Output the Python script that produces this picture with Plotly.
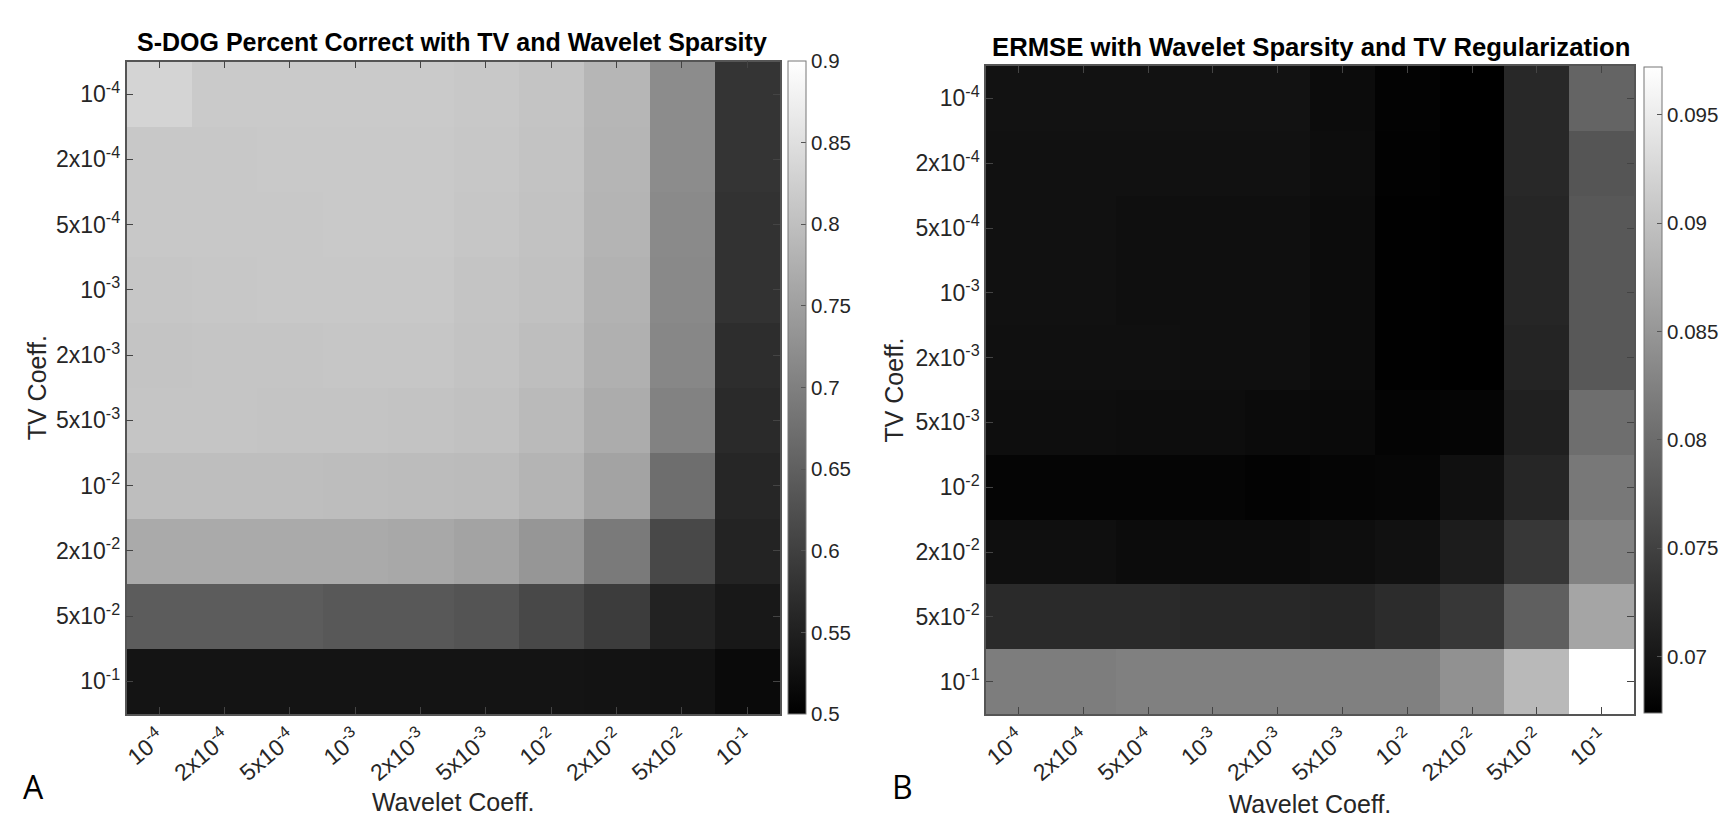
import plotly.graph_objects as go

coef_labels = ["10<sup>-4</sup>", "2x10<sup>-4</sup>", "5x10<sup>-4</sup>", "10<sup>-3</sup>", "2x10<sup>-3</sup>",
               "5x10<sup>-3</sup>", "10<sup>-2</sup>", "2x10<sup>-2</sup>", "5x10<sup>-2</sup>", "10<sup>-1</sup>"]

percent_correct = [
    [.833, .817, .817, .817, .817, .814, .807, .785, .720, .582],
    [.814, .814, .815, .815, .815, .812, .806, .784, .720, .582],
    [.814, .814, .814, .815, .815, .811, .804, .782, .716, .578],
    [.811, .812, .814, .814, .814, .807, .803, .779, .715, .578],
    [.807, .809, .809, .811, .811, .806, .798, .776, .712, .571],
    [.809, .809, .807, .807, .806, .803, .792, .770, .704, .566],
    [.798, .798, .798, .796, .795, .793, .782, .756, .673, .560],
    [.767, .767, .767, .767, .764, .756, .735, .691, .613, .555],
    [.644, .644, .644, .638, .638, .632, .613, .594, .553, .538],
    [.531, .531, .531, .531, .531, .531, .531, .530, .528, .516],
]
ermse = [
    [.06950, .06950, .06950, .06950, .06950, .06880, .06775, .06740, .07207, .07909],
    [.06939, .06939, .06939, .06939, .06939, .06892, .06763, .06740, .07207, .07733],
    [.06939, .06939, .06915, .06915, .06915, .06880, .06752, .06740, .07184, .07768],
    [.06939, .06939, .06915, .06915, .06915, .06880, .06752, .06740, .07184, .07768],
    [.06927, .06927, .06927, .06915, .06915, .06880, .06752, .06740, .07161, .07768],
    [.06904, .06904, .06892, .06892, .06869, .06857, .06787, .06798, .07114, .08025],
    [.06798, .06798, .06798, .06798, .06775, .06798, .06810, .06927, .07184, .08142],
    [.06915, .06915, .06880, .06880, .06880, .06904, .06939, .07067, .07383, .08259],
    [.07231, .07231, .07231, .07207, .07207, .07184, .07254, .07383, .07850, .08668],
    [.08201, .08201, .08236, .08236, .08236, .08236, .08236, .08434, .08902, .09720],
]
ticks_a = [0.5, 0.55, 0.6, 0.65, 0.7, 0.75, 0.8, 0.85, 0.9]
ticks_b = [0.07, 0.075, 0.08, 0.085, 0.09, 0.095]

W, H = 1731, 831
INK = "#262626"
FONT = "Liberation Sans"
gray = [[0, "#000000"], [1, "#ffffff"]]
px = lambda v: v / W
py = lambda v: 1 - v / H

fig = go.Figure()


def panel(z, n, left, right, top, bottom, zmin, zmax, cb_l, cb_r, cb_t, cb_b, cticks, x_off, y_off):
    fig.add_trace(go.Heatmap(
        z=z, x=coef_labels, y=coef_labels, zmin=zmin, zmax=zmax, colorscale=gray,
        xaxis=f"x{n}", yaxis=f"y{n}",
        colorbar=dict(
            x=px(cb_l), xanchor="left", thickness=cb_r - cb_l, thicknessmode="pixels",
            y=py(cb_b), yanchor="bottom", len=(cb_b - cb_t) / H, lenmode="fraction",
            xpad=0, ypad=0, tickvals=cticks, ticktext=[str(t) for t in cticks],
            ticks="inside", ticklen=5, tickcolor="#555555", tickwidth=1,
            outlinecolor="#777777", outlinewidth=1,
            tickfont=dict(family=FONT, size=20.5, color=INK),
        ),
    ))
    common = dict(type="category", ticks="inside", ticklen=7, tickwidth=1, tickcolor="#444444",
                  showline=True, linecolor="#555555", linewidth=1.5, mirror="ticks", showgrid=False,
                  automargin=False, tickfont=dict(family=FONT, size=23, color=INK))
    fig.layout[f"xaxis{n}"] = dict(common, domain=[px(left), px(right)], anchor=f"y{n}", tickangle=-40,
                                   title=dict(text="Wavelet Coeff.", standoff=x_off,
                                              font=dict(family=FONT, size=25, color=INK)))
    fig.layout[f"yaxis{n}"] = dict(common, domain=[py(bottom), py(top)], anchor=f"x{n}", autorange="reversed",
                                   title=dict(text="TV Coeff.", standoff=y_off,
                                              font=dict(family=FONT, size=25, color=INK)))


panel(percent_correct, "", 126.5, 780, 61.5, 714, 0.5, 0.9, 788, 806, 61.5, 714, ticks_a, 9, 2)
panel(ermse, 2, 986, 1634, 66, 714, 0.0674, 0.0972, 1644, 1662, 67, 713, ticks_b, 11, 5)


def text(s, x, y, size, bold=False, family=FONT, color="#000000"):
    fig.add_annotation(text=f"<b>{s}</b>" if bold else s, x=px(x), y=py(y), xref="paper", yref="paper",
                       xanchor="center", yanchor="middle", showarrow=False,
                       font=dict(family=family, size=size, color=color))


text("S-DOG Percent Correct with TV and Wavelet Sparsity", 452, 42, 25, True)
text("ERMSE with Wavelet Sparsity and TV Regularization", 1311, 47, 25.7, True)
text("A", 33, 786, 32, False, "Open Sans")
text("B", 902, 786, 32, False, "Open Sans")

fig.update_layout(width=W, height=H, margin=dict(l=0, r=0, t=0, b=0), autosize=False,
                  paper_bgcolor="white", plot_bgcolor="white", showlegend=False)
fig.write_html("out.html", config={"displayModeBar": False},
               post_script="document.body.style.margin='0';")
